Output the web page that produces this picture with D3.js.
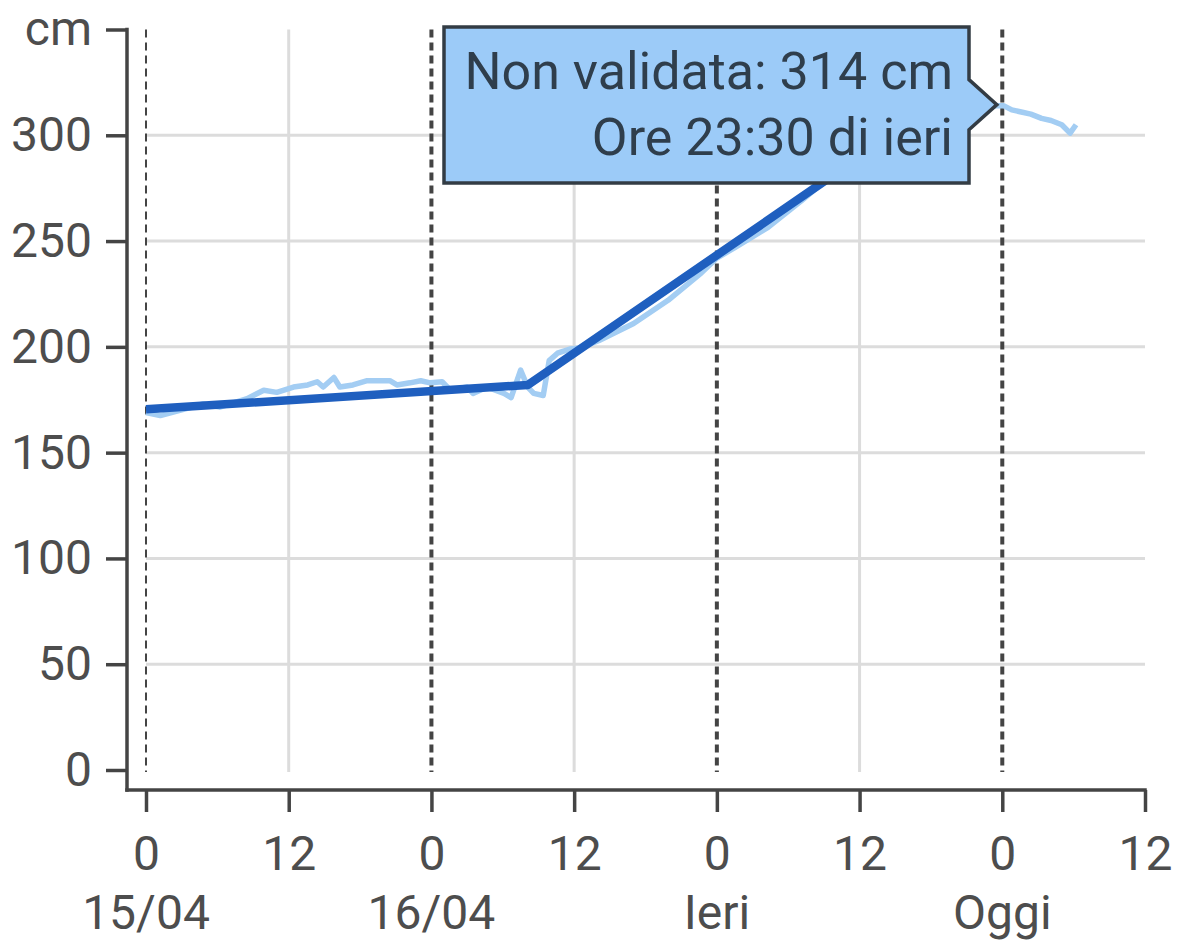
<!DOCTYPE html>
<html>
<head>
<meta charset="utf-8">
<script src="https://cdn.jsdelivr.net/npm/d3@7"></script>
<style>
  html, body { margin: 0; padding: 0; background: #fff; }
  svg { display: block; font-family: Roboto, "Noto Sans", sans-serif; }
</style>
</head>
<body>
<svg id="chart" width="1181" height="943"></svg>
<script>
// ---- data ----
// hours since 15/04 00:00
const xTickHours = [0, 12, 24, 36, 48, 60, 72, 84];
const dayLabels = ["15/04", "16/04", "Ieri", "Oggi"];
const yTickValues = [0, 50, 100, 150, 200, 250, 300, 350];
const yUnitLabel = "cm";

// observed (not validated) levels, cm
const obsHours = [0, 1.2, 4.8, 6.2, 8.5, 9.9, 11.0, 12.4, 13.6, 14.4, 14.9, 15.8, 16.3, 17.4, 18.6, 20.5, 21.1, 22.2, 23.1, 23.9, 24.9, 25.6, 27.0, 27.5, 28.7, 30.1, 30.7, 31.5, 32.1, 32.6, 33.4, 33.9, 34.6, 35.7, 36.5, 38.1, 41.0, 43.9, 46.7, 48.0, 49.4, 52.3, 55.1, 56.8, 60, 64, 68, 71.5, 72.1, 72.8, 73.6, 74.4, 75.3, 76.1, 77.0, 77.7, 78.2];
const obsValues = [169, 167.5, 173, 171.5, 175.5, 179.5, 178.5, 181, 182, 183.5, 181, 185.5, 181, 182, 184, 184, 182, 183, 184, 183, 183.5, 179.5, 181, 178, 181, 178, 176, 189, 181, 178, 177, 193.5, 197, 199, 199.5, 203, 211, 222, 235, 242, 246.5, 256.5, 269, 277, 288, 298, 308, 314, 314, 312, 311, 310, 308, 307, 305, 301, 305];

// trend (model) line, cm
const trendHours = [0, 32.1, 57.5];
const trendValues = [170.5, 182, 280];

const tooltipLines = ["Non validata: 314 cm", "Ore 23:30 di ieri"];
const tooltipHour = 71.5;
const tooltipValue = 314;

// ---- chart ----
const svg = d3.select("#chart");
const x = d3.scaleLinear().domain([0, 84]).range([146, 1145]);
const y = d3.scaleLinear().domain([0, 350]).range([770, 29.5]);

const axisColor = "#444";
const textColor = "#4d4d4d";
const gridColor = "#dcdcdc";
const fontSize = 48;

const xAxisY = 790;
const yAxisX = 127;

// horizontal grid
svg.append("g").selectAll("line")
  .data(yTickValues.filter(v => v > 0 && v < 350))
  .join("line")
  .attr("x1", x(0)).attr("x2", x(84))
  .attr("y1", d => y(d)).attr("y2", d => y(d))
  .attr("stroke", gridColor).attr("stroke-width", 3);

// vertical grid (noon) and dashed midnights
const vg = svg.append("g");
xTickHours.filter(h => h % 24 === 12 && h < 84).forEach(h => {
  vg.append("line")
    .attr("x1", x(h)).attr("x2", x(h))
    .attr("y1", y(350)).attr("y2", y(0) + 2)
    .attr("stroke", gridColor).attr("stroke-width", 3);
});
xTickHours.filter(h => h % 24 === 0).forEach(h => {
  vg.append("line")
    .attr("x1", x(h)).attr("x2", x(h))
    .attr("y1", y(350)).attr("y2", y(0) + 2)
    .attr("stroke", axisColor)
    .attr("stroke-width", h === 0 ? 2 : 4)
    .attr("stroke-dasharray", "8,5");
});

// observed line
const lineGen = d3.line().x(d => x(d[0])).y(d => y(d[1]));
svg.append("path")
  .datum(obsHours.map((h, i) => [h, obsValues[i]]))
  .attr("d", lineGen)
  .attr("fill", "none")
  .attr("stroke", "#a3cdf3")
  .attr("stroke-width", 5.5)
  .attr("stroke-linejoin", "round");

// trend line
svg.append("path")
  .datum(trendHours.map((h, i) => [h, trendValues[i]]))
  .attr("d", lineGen)
  .attr("fill", "none")
  .attr("stroke", "#1f5fbf")
  .attr("stroke-width", 8.5)
  .attr("stroke-linejoin", "round");

// y axis
const yAxis = d3.axisLeft(y)
  .tickValues(yTickValues)
  .tickSize(21)
  .tickPadding(14)
  .tickFormat(v => v === 350 ? yUnitLabel : String(v));
const gy = svg.append("g").attr("transform", `translate(${yAxisX},0)`).call(yAxis);
gy.select(".domain").remove();
gy.selectAll(".tick line").attr("stroke", axisColor).attr("stroke-width", 3.5);
gy.selectAll(".tick text").attr("fill", textColor).attr("font-size", fontSize)
  .attr("font-family", "Roboto");
svg.append("line")
  .attr("x1", yAxisX).attr("x2", yAxisX)
  .attr("y1", y(350) - 1.75).attr("y2", xAxisY + 1.75)
  .attr("stroke", axisColor).attr("stroke-width", 3.5);

// x axis
const xAxis = d3.axisBottom(x)
  .tickValues(xTickHours)
  .tickSize(22)
  .tickPadding(24)
  .tickFormat(h => String(h % 24));
const gx = svg.append("g").attr("transform", `translate(0,${xAxisY})`).call(xAxis);
gx.select(".domain").remove();
gx.selectAll(".tick line").attr("stroke", axisColor).attr("stroke-width", 3.5);
gx.selectAll(".tick text").attr("fill", textColor).attr("font-size", fontSize)
  .attr("font-family", "Roboto");
svg.append("line")
  .attr("x1", yAxisX - 1.75).attr("x2", x(84) + 1.75)
  .attr("y1", xAxisY).attr("y2", xAxisY)
  .attr("stroke", axisColor).attr("stroke-width", 3.5);

// day labels
svg.append("g").selectAll("text")
  .data(xTickHours.filter(h => h % 24 === 0))
  .join("text")
  .attr("x", d => x(d))
  .attr("y", 929)
  .attr("text-anchor", "middle")
  .attr("fill", textColor)
  .attr("font-size", fontSize)
  .text((d, i) => dayLabels[i]);

// tooltip
const tipX = x(tooltipHour) + 0.5, tipY = y(tooltipValue) - 1;
const bx0 = 444, bx1 = 969, by0 = 27, by1 = 183;
const tip = svg.append("g");
tip.append("path")
  .attr("d", `M${bx0},${by0} L${bx1},${by0} L${bx1},${tipY - 25} L${tipX},${tipY} L${bx1},${tipY + 25} L${bx1},${by1} L${bx0},${by1} Z`)
  .attr("fill", "#9ccbf8")
  .attr("stroke", "#333c44")
  .attr("stroke-width", 3.5)
  .attr("stroke-linejoin", "miter");
tip.selectAll("text")
  .data(tooltipLines)
  .join("text")
  .attr("x", 953)
  .attr("y", (d, i) => 89 + i * 66)
  .attr("text-anchor", "end")
  .attr("fill", "#2f3e4c")
  .attr("font-size", 52)
  .text(d => d);
</script>
</body>
</html>
